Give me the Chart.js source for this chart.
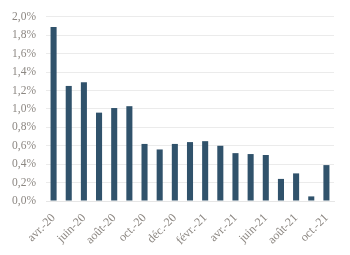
<!DOCTYPE html>
<html>
<head>
<meta charset="utf-8">
<script src="https://cdn.jsdelivr.net/npm/chart.js@4.4.0/dist/chart.umd.min.js"></script>
<style>
  html, body { margin: 0; padding: 0; background: #fff; }
  #wrap { width: 350px; height: 255px; }
</style>
</head>
<body>
<div id="wrap"><canvas id="chart"></canvas></div>
<script>
// months avr.-20 .. oct.-21
var months = ['avr.-20', 'mai-20', 'juin-20', 'juil.-20', 'août-20', 'sept.-20', 'oct.-20', 'nov.-20', 'déc.-20',
    'janv.-21', 'févr.-21', 'mars-21', 'avr.-21', 'mai-21', 'juin-21', 'juil.-21', 'août-21', 'sept.-21', 'oct.-21'];
var values = [1.89, 1.25, 1.29, 0.96, 1.01, 1.03, 0.62, 0.56, 0.62,
    0.64, 0.65, 0.60, 0.52, 0.51, 0.50, 0.24, 0.30, 0.05, 0.39];
var yTicks = [0, 0.2, 0.4, 0.6, 0.8, 1.0, 1.2, 1.4, 1.6, 1.8, 2.0];

var grey = '#8c8782';
var fontFam = '"Liberation Serif", "DejaVu Serif", serif';

var ctx = document.getElementById('chart').getContext('2d');
var chart = new Chart(ctx, {
    type: 'bar',
    data: {
        labels: months,
        datasets: [{
            data: values,
            backgroundColor: '#30526b',
            categoryPercentage: 1,
            barPercentage: 0.4
        }]
    },
    options: {
        responsive: true,
        maintainAspectRatio: false,
        animation: false,
        layout: { padding: { top: 10, right: 16, left: 0, bottom: 0 } },
        plugins: { legend: { display: false }, tooltip: { enabled: false } },
        scales: {
            x: {
                grid: { display: false },
                border: { color: '#e6e6e6' },
                ticks: {
                    color: grey,
                    font: { family: fontFam, size: 12 },
                    autoSkip: false,
                    maxRotation: 45,
                    minRotation: 45,
                    padding: 2,
                    callback: function (val, i) {
                        return i % 2 === 0 ? months[i] : '';
                    }
                },
                afterFit: function (axis) { axis.height = 54; }
            },
            y: {
                min: 0,
                max: 2.0,
                afterBuildTicks: function (axis) {
                    axis.ticks = yTicks.map(function (v) { return { value: v }; });
                },
                grid: { color: '#ebebeb', drawTicks: false },
                border: { display: false },
                ticks: {
                    color: grey,
                    font: { family: fontFam, size: 11.5 },
                    padding: 10,
                    callback: function (v) {
                        return v.toFixed(1).replace('.', ',') + '%';
                    }
                },
                afterFit: function (axis) { axis.width = 46; }
            }
        }
    }
});
</script>
</body>
</html>
